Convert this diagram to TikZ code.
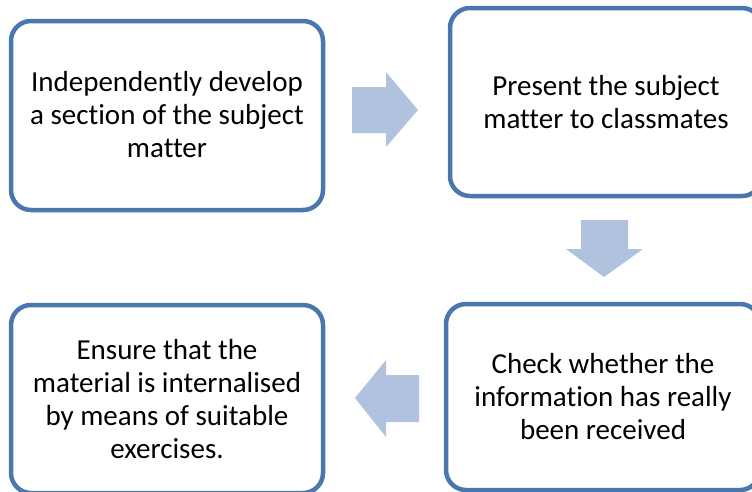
\documentclass[tikz,border=0pt]{standalone}
\usepackage{fontspec}
\setmainfont[RawFeature=-liga]{Carlito}
\definecolor{boxline}{HTML}{4A77AE}
\definecolor{arrowfill}{HTML}{B0C2DE}
\begin{document}
\begin{tikzpicture}[x=1pt,y=-1pt,
  stepbox/.style={draw=boxline,line width=4.5pt,rounded corners=20pt,fill=white},
  boxtext/.style={align=center,font=\fontsize{29}{33}\selectfont,text=black},
  blockarrow/.style={fill=arrowfill,draw=none}]
\useasboundingbox (0,0) rectangle (752,491);
\clip (0,0) rectangle (752,491);
% boxes
\draw[stepbox] (11,21) rectangle (323,210);
\draw[stepbox] (450,8) rectangle (762,196);
\draw[stepbox] (446,304) rectangle (760,490);
\draw[stepbox] (11,305) rectangle (323,493);
% texts
\node[boxtext] (t1) at (167,115) {Independently develop\\a section of the subject\\matter};
\node[boxtext] (t2) at (606,102) {Present the subject\\matter to classmates};
\node[boxtext] (t3) at (603,397) {Check whether the\\information has really\\been received};
\node[boxtext] (t4) at (167,399) {Ensure that the\\material is internalised\\by means of suitable\\exercises.};
% block arrows
\fill[blockarrow] (352,87) -- (386,87) -- (386,72) -- (418,110) -- (386,147) -- (386,133) -- (352,133) -- cycle;
\fill[blockarrow] (581,220) -- (628,220) -- (628,249) -- (643,249) -- (604,277) -- (566,249) -- (581,249) -- cycle;
\fill[blockarrow] (419,375) -- (386,375) -- (386,360) -- (355,398) -- (386,437) -- (386,422) -- (419,422) -- cycle;
\end{tikzpicture}
\end{document}
